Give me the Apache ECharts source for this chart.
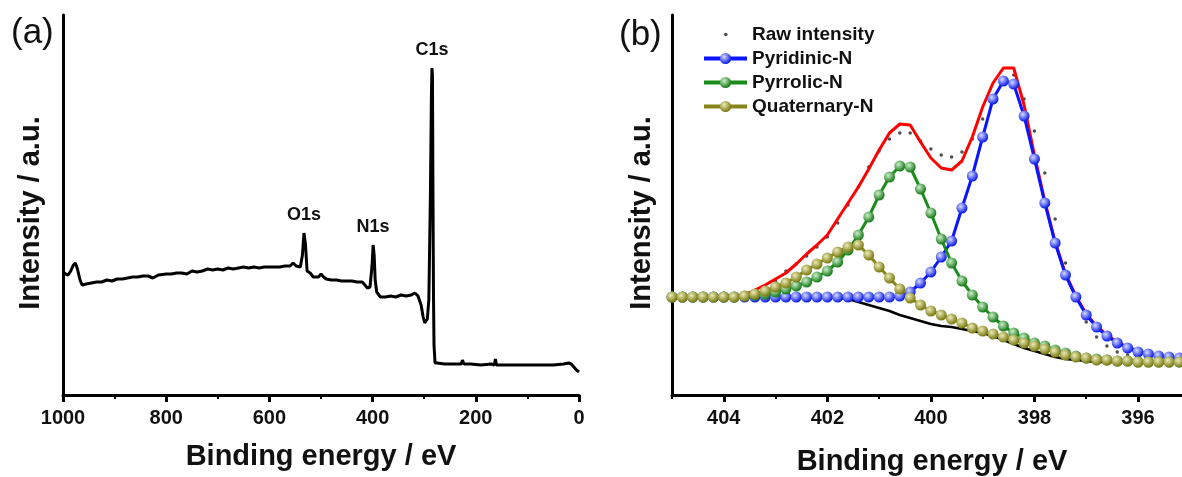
<!DOCTYPE html>
<html>
<head>
<meta charset="utf-8">
<script src="https://cdn.jsdelivr.net/npm/echarts@6/dist/echarts.min.js"></script>
<style>
    html, body { margin: 0; padding: 0; background: #fff; }
    #main { width: 1182px; height: 477px; }
</style>
</head>
<body>
<div id="main"></div>
<script>
// ---- (a) survey spectrum ----
const surveyEnergy = [1000, 995, 990, 985, 980, 976, 972, 967, 963, 955, 945, 935, 925, 915, 905, 895, 885, 875, 865, 855,
    845, 835, 826, 815, 800, 790, 780, 770, 760, 750, 740, 730, 720, 710, 700, 690, 680, 670, 660, 650,
    640, 630, 620, 610, 600, 590, 580, 570, 560, 554, 548, 540, 536, 533, 530, 527, 521, 515, 505, 500,
    495, 490, 480, 470, 460, 450, 440, 430, 420, 415, 410, 405, 401, 399, 397, 395, 392, 385, 375, 365,
    355, 345, 335, 325, 318, 312, 306, 302, 299, 297, 294, 291, 288, 286, 285, 284, 283, 282, 281, 279,
    275, 260, 245, 235, 228, 226, 223, 210, 190, 170, 164, 162, 160, 150, 130, 110, 90, 70, 50, 30,
    20, 15, 10, 5, 0];
const surveyIntensity = [123, 121, 120, 124, 130, 132, 126, 115, 110, 111, 112, 113, 113, 115, 114, 116, 116, 117, 118, 118,
    119, 119, 117, 120, 121, 121, 122, 122, 121, 124, 123, 124, 126, 125, 126, 125, 127, 126, 127, 128,
    127, 128, 127, 128, 128, 128, 128, 129, 129, 132, 129, 128, 140, 162, 150, 124, 122, 118, 118, 121,
    118, 116, 115, 115, 114, 114, 114, 113, 113, 110, 107, 108, 130, 150, 140, 115, 103, 98, 98, 99,
    98, 100, 99, 100, 102, 99, 90, 78, 72, 70, 76, 95, 200, 300, 327, 320, 200, 100, 50, 32,
    32, 31, 31, 31, 31, 35, 31, 31, 30, 31, 30, 36, 30, 30, 30, 30, 30, 30, 30, 31,
    32, 31, 28, 25, 23];
const surveyPeaks = ['O1s', 'N1s', 'C1s'];
const surveyPeakEnergy = [533, 399, 285];
const surveyPeakIntensity = [162, 150, 327];

// ---- (b) N1s high resolution ----
const n1sEnergy = [405.0, 404.8, 404.6, 404.4, 404.2, 404.0, 403.8, 403.6, 403.4, 403.2,
    403.0, 402.8, 402.6, 402.4, 402.2, 402.0, 401.8, 401.6, 401.4, 401.2,
    401.0, 400.8, 400.6, 400.4, 400.2, 400.0, 399.8, 399.6, 399.4, 399.2,
    399.0, 398.8, 398.6, 398.4, 398.2, 398.0, 397.8, 397.6, 397.4, 397.2,
    397.0, 396.8, 396.6, 396.4, 396.2, 396.0, 395.8, 395.6, 395.4, 395.2];
const rawIntensity = [98, 98, 98, 98, 98, 98, 98, 98, 103, 108,
    114, 124, 131, 139, 148, 158, 172, 190, 208, 228,
    244, 256, 262, 262, 254, 246, 240, 238, 243, 256,
    276, 297, 316, 320, 296, 264, 222, 176, 132, 96,
    73, 58, 49, 43, 40, 38, 37, 36, 36, 36];
const envelopeFit = [98, 98, 98, 98, 98, 98, 98, 100, 105, 110,
    116, 122, 131, 141, 150, 160, 176, 192, 208, 226,
    245, 262, 271, 270, 253, 237, 227, 225, 234, 258,
    288, 312, 327, 327, 290, 240, 194, 153, 121, 99,
    81, 69, 60, 53, 48, 44, 41, 39, 38, 37];
const backgroundLine = [98, 98, 98, 98, 98, 98, 98, 98, 98, 98,
    98, 98, 98, 98, 98, 98, 97, 96, 93, 90,
    87, 84, 80, 77, 74, 71, 69, 68, 66, 64,
    62, 59, 55, 51, 47, 44, 41, 38, 36, 35,
    34, 33, 33, 33, 33, 33, 33, 33, 33, 33];
const pyridinicN = [98, 98, 98, 98, 98, 98, 98, 98, 98, 98,
    98, 98, 98, 98, 98, 98, 98, 98, 98, 98,
    98, 98, 99, 103, 112, 123, 138, 154, 187, 219,
    258, 296, 314, 311, 279, 236, 192, 152, 120, 98,
    80, 68, 59, 52, 47, 43, 41, 39, 38, 37];
const pyrrolicN = [98, 98, 98, 98, 98, 98, 98, 99, 100, 101,
    103, 106, 109, 113, 118, 124, 133, 145, 160, 178,
    200, 218, 229, 228, 206, 182, 156, 132, 114, 100,
    88, 78, 69, 62, 57, 52, 49, 45, 42, 39,
    37, 36, 35, 34, 34, 33, 33, 33, 33, 33];
const quaternaryN = [98, 98, 98, 98, 98, 98, 98, 99, 101, 104,
    108, 112, 118, 125, 131, 137, 143, 148, 150, 140,
    128, 117, 106, 97, 90, 84, 80, 76, 72, 67,
    64, 61, 58, 55, 52, 49, 46, 43, 40, 38,
    37, 35, 35, 34, 34, 33, 33, 33, 33, 33];
const n1sMajorTicks = [404, 402, 400, 398, 396];
const n1sMinorTicks = [405, 403, 401, 399, 397];

const FONT = '"Liberation Sans", Arial, sans-serif';

function pairs(xs, ys) {
    return xs.map((x, i) => [x, ys[i]]);
}

function ball(light, dark) {
    return new echarts.graphic.RadialGradient(0.38, 0.35, 0.62, [
        { offset: 0, color: light },
        { offset: 1, color: dark }
    ]);
}

function fitSeries(name, values, lineColor, light, dark) {
    return {
        name: name,
        type: 'line',
        xAxisIndex: 1,
        yAxisIndex: 1,
        data: pairs(n1sEnergy, values),
        color: lineColor,
        symbol: 'circle',
        symbolSize: 11,
        showAllSymbol: true,
        lineStyle: { color: lineColor, width: 3 },
        itemStyle: { color: ball(light, dark) }
    };
}

const axisLabelStyle = {
    fontFamily: FONT,
    fontSize: 20,
    fontWeight: 'bold',
    color: '#111',
    margin: 13,
    formatter: v => String(v)
};

const chart = echarts.init(document.getElementById('main'));

const option = {
    animation: false,
    backgroundColor: '#fff',
    grid: [
        { left: 63, top: 15, width: 516, height: 380 },
        { left: 672, top: 15, right: 0, height: 380 }
    ],
    xAxis: [
        {
            gridIndex: 0,
            type: 'value',
            min: 0,
            max: 1000,
            interval: 200,
            inverse: true,
            axisLine: { onZero: false, lineStyle: { color: '#000', width: 3 } },
            axisTick: { length: 7, lineStyle: { color: '#000', width: 3 } },
            minorTick: { show: true, splitNumber: 2, length: 4, lineStyle: { color: '#000', width: 2 } },
            axisLabel: Object.assign({ showMinLabel: true, showMaxLabel: true }, axisLabelStyle),
            splitLine: { show: false }
        },
        {
            gridIndex: 1,
            type: 'value',
            min: 395.15,
            max: 405,
            inverse: true,
            axisLine: { onZero: false, lineStyle: { color: '#000', width: 3 } },
            axisTick: { customValues: n1sMajorTicks, length: 7, lineStyle: { color: '#000', width: 3 } },
            axisLabel: Object.assign({ customValues: n1sMajorTicks }, axisLabelStyle),
            splitLine: { show: false }
        },
        {
            gridIndex: 1,
            type: 'value',
            position: 'bottom',
            min: 395.15,
            max: 405,
            inverse: true,
            axisLine: { show: false },
            axisTick: { customValues: n1sMinorTicks, length: 4, lineStyle: { color: '#000', width: 2 } },
            axisLabel: { show: false },
            splitLine: { show: false }
        }
    ],
    yAxis: [0, 1].map(i => ({
        gridIndex: i,
        type: 'value',
        min: 0,
        max: 380,
        axisLine: { show: true, onZero: false, lineStyle: { color: '#000', width: 3 } },
        axisTick: { show: false },
        axisLabel: { show: false },
        splitLine: { show: false }
    })),
    legend: {
        orient: 'vertical',
        left: 697,
        top: 20,
        itemWidth: 43,
        itemHeight: 14,
        itemGap: 5,
        lineStyle: { width: 4 },
        textStyle: { fontFamily: FONT, fontSize: 19, fontWeight: 'bold', color: '#111' },
        data: [
            { name: 'Raw intensity', icon: 'path://M0 0M43 0M43 14M0 14M20 7a1.8 1.8 0 1 0 3.6 0a1.8 1.8 0 1 0 -3.6 0Z' },
            'Pyridinic-N',
            'Pyrrolic-N',
            'Quaternary-N'
        ]
    },
    graphic: [
        { type: 'text', x: 11, y: 33, style: { text: '(a)', font: '35px ' + FONT, fill: '#111', verticalAlign: 'middle' } },
        { type: 'text', x: 619, y: 35, style: { text: '(b)', font: '35px ' + FONT, fill: '#111', verticalAlign: 'middle' } },
        { type: 'text', x: 31, y: 213, rotation: Math.PI / 2, style: { text: 'Intensity / a.u.', font: 'bold 29px ' + FONT, fill: '#111', align: 'center', verticalAlign: 'middle' } },
        { type: 'text', x: 642, y: 213, rotation: Math.PI / 2, style: { text: 'Intensity / a.u.', font: 'bold 29px ' + FONT, fill: '#111', align: 'center', verticalAlign: 'middle' } },
        { type: 'text', x: 321, y: 457, style: { text: 'Binding energy / eV', font: 'bold 29px ' + FONT, fill: '#111', align: 'center', verticalAlign: 'middle' } },
        { type: 'text', x: 932, y: 462, style: { text: 'Binding energy / eV', font: 'bold 29px ' + FONT, fill: '#111', align: 'center', verticalAlign: 'middle' } }
    ],
    series: [
        {
            name: 'Survey',
            type: 'line',
            xAxisIndex: 0,
            yAxisIndex: 0,
            data: pairs(surveyEnergy, surveyIntensity),
            symbol: 'none',
            lineStyle: { color: '#000', width: 3 },
            markPoint: {
                symbol: 'circle',
                symbolSize: 1,
                itemStyle: { color: 'rgba(0,0,0,0)' },
                label: {
                    show: true,
                    position: 'top',
                    distance: 8,
                    formatter: '{b}',
                    fontFamily: FONT,
                    fontSize: 18,
                    fontWeight: 'bold',
                    color: '#111'
                },
                data: surveyPeaks.map((p, i) => ({ name: p, coord: [surveyPeakEnergy[i], surveyPeakIntensity[i]] }))
            }
        },
        {
            name: 'Background',
            type: 'line',
            xAxisIndex: 1,
            yAxisIndex: 1,
            data: pairs(n1sEnergy, backgroundLine),
            symbol: 'none',
            lineStyle: { color: '#000', width: 2.5 }
        },
        {
            name: 'Envelope',
            type: 'line',
            xAxisIndex: 1,
            yAxisIndex: 1,
            data: pairs(n1sEnergy, envelopeFit),
            symbol: 'none',
            lineStyle: { color: '#ff0000', width: 3 }
        },
        {
            name: 'Raw intensity',
            type: 'scatter',
            xAxisIndex: 1,
            yAxisIndex: 1,
            data: pairs(n1sEnergy, rawIntensity),
            symbolSize: 3.5,
            itemStyle: { color: '#222' }
        },
        fitSeries('Pyridinic-N', pyridinicN, '#0a14ff', '#d6dbff', '#1020e8'),
        fitSeries('Pyrrolic-N', pyrrolicN, '#1a8c1a', '#cdeecd', '#1a7f1a'),
        fitSeries('Quaternary-N', quaternaryN, '#86861a', '#ecebb8', '#7d7d14')
    ]
};

chart.setOption(option);
</script>
</body>
</html>
